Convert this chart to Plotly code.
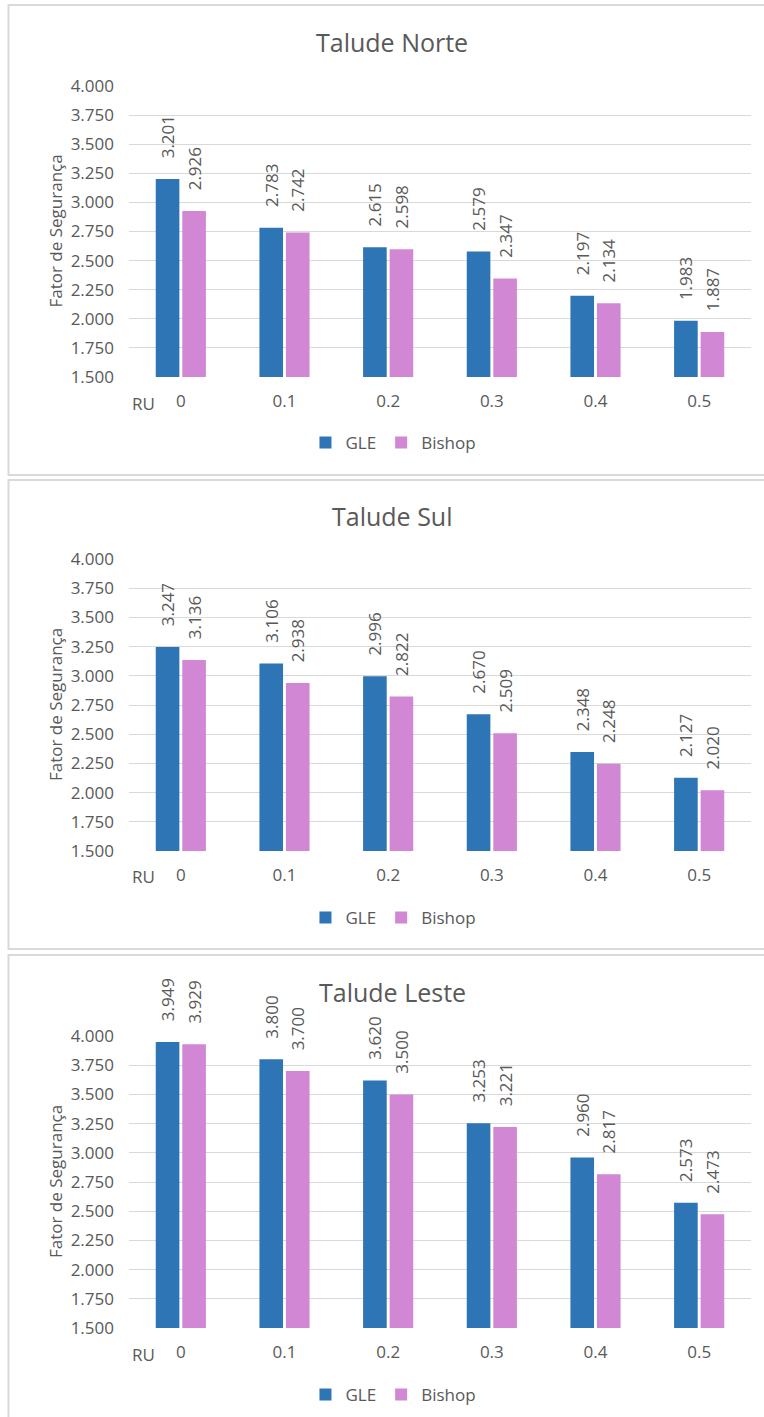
import plotly.graph_objects as go

categories = ["0", "0.1", "0.2", "0.3", "0.4", "0.5"]
titles = ["Talude Norte", "Talude Sul", "Talude Leste"]
gle_norte = [3.201, 2.783, 2.615, 2.579, 2.197, 1.983]
bishop_norte = [2.926, 2.742, 2.598, 2.347, 2.134, 1.887]
gle_sul = [3.247, 3.106, 2.996, 2.670, 2.348, 2.127]
bishop_sul = [3.136, 2.938, 2.822, 2.509, 2.248, 2.020]
gle_leste = [3.949, 3.800, 3.620, 3.253, 2.960, 2.573]
bishop_leste = [3.929, 3.700, 3.500, 3.221, 2.817, 2.473]
y_ticks = [1.5, 1.75, 2.0, 2.25, 2.5, 2.75, 3.0, 3.25, 3.5, 3.75, 4.0]
y_tick_labels = ["1.500", "1.750", "2.000", "2.250", "2.500", "2.750",
                 "3.000", "3.250", "3.500", "3.750", "4.000"]

W, H = 764, 1417
FONT = "Open Sans"
GRAY = "#595959"
GRID = "#D9D9D9"
BLUE = "#2E75B6"
PINK = "#D187D4"
FS = 17

# pixel layout per panel: (plot top, plot bottom, title y, ticklabel y, legend y, panel top, panel bottom)
panels = [
    (86, 377, 42, 403, 443, 5, 475),
    (559, 851, 516, 876, 918, 480, 949),
    (1036, 1328, 992, 1354, 1395, 955, 1425),
]
series = [(gle_norte, bishop_norte), (gle_sul, bishop_sul), (gle_leste, bishop_leste)]

def py(p):
    return 1 - p / H

X0, X1 = 129, 751
fig = go.Figure()
layout = dict(
    width=W, height=H, margin=dict(l=0, r=0, t=0, b=0, pad=0, autoexpand=False),
    paper_bgcolor="white", plot_bgcolor="white",
    bargap=0.488, bargroupgap=0.11, barmode="group",
    font=dict(family=FONT, color=GRAY, size=FS),
    annotations=[], shapes=[],
)
lab = "\u00a0\u00a0\u00a0\u00a0%{y:.3f}"
for i, (title, (g, b), pan) in enumerate(zip(titles, series, panels)):
    top, bot, ty, tly, ly, ptop, pbot = pan
    n = "" if i == 0 else str(i + 1)
    leg = "legend" if i == 0 else f"legend{i+1}"
    for name, vals, col in (("GLE", g, BLUE), ("Bishop", b, PINK)):
        fig.add_trace(go.Bar(
            x=categories, y=vals, name=name, marker=dict(color=col, line=dict(width=0)),
            xaxis="x" + n, yaxis="y" + n, legend=leg,
            texttemplate=lab, textposition="outside", textangle=-90,
            textfont=dict(family=FONT, size=FS, color=GRAY),
            cliponaxis=False, constraintext="none", hoverinfo="skip",
        ))
    layout["xaxis" + n] = dict(
        domain=[X0 / W, X1 / W], anchor="y" + n, type="category",
        showgrid=False, showline=False, ticks="", ticklabelstandoff=12,
        tickfont=dict(family=FONT, size=FS, color=GRAY), fixedrange=True,
        automargin=False,
    )
    layout["yaxis" + n] = dict(
        domain=[py(bot), py(top)], anchor="x" + n, range=[1.5, 4.0],
        tickvals=y_ticks, ticktext=y_tick_labels, showgrid=True,
        gridcolor=GRID, gridwidth=1, zeroline=False, showline=False,
        ticks="", ticklabelstandoff=14, automargin=False,
        tickfont=dict(family=FONT, size=FS, color=GRAY), fixedrange=True,
    )
    layout[leg] = dict(
        orientation="h", x=0.515, xanchor="center", y=py(ly), yanchor="middle",
        font=dict(family=FONT, size=FS, color=GRAY), bgcolor="rgba(0,0,0,0)",
        itemwidth=30, traceorder="normal", tracegroupgap=0,
    )
    layout["annotations"] += [
        dict(text=title, x=392 / W, y=py(ty), xref="paper", yref="paper",
             xanchor="center", yanchor="middle", showarrow=False,
             font=dict(family=FONT, size=25, color=GRAY)),
        dict(text="RU", x=143 / W, y=py(tly), xref="paper", yref="paper",
             xanchor="center", yanchor="middle", showarrow=False,
             font=dict(family=FONT, size=FS, color=GRAY)),
        dict(text="Fator de Segurança", x=55 / W, y=py((top + bot) / 2),
             xref="paper", yref="paper", xanchor="center", yanchor="middle",
             textangle=-90, showarrow=False,
             font=dict(family=FONT, size=FS, color=GRAY)),
    ]
    layout["shapes"].append(dict(
        type="rect", xref="paper", yref="paper",
        x0=8.5 / W, x1=(W + 10) / W, y0=py(pbot), y1=py(ptop),
        line=dict(color=GRID, width=2), fillcolor="rgba(0,0,0,0)", layer="below",
    ))

fig.update_layout(**layout)
fig.write_html("out.html")
